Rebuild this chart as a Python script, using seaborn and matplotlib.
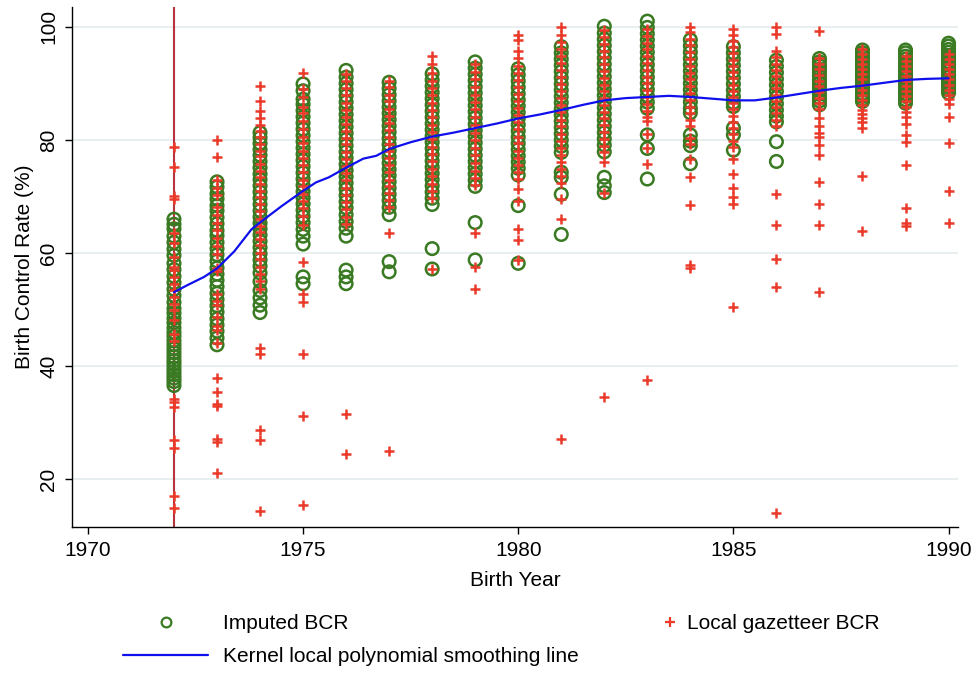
import numpy as np
import pandas as pd
import matplotlib
matplotlib.use("Agg")
import matplotlib.pyplot as plt
import seaborn as sns
from matplotlib.lines import Line2D

# ---------------- data ----------------
years = list(range(1972, 1991))

imp_1972 = [66.0, 65.1, 64.3, 63.0, 61.9, 60.7, 59.6, 58.2, 57.1, 55.9, 54.8, 53.6, 52.5, 51.3, 50.2, 49.4, 48.5,
            47.7, 46.8, 46.0, 45.3, 44.5, 43.8, 43.1, 42.4, 41.7, 41.0, 40.4, 39.7, 39.1, 38.5, 37.9, 37.3, 36.6]
imp_1973 = [72.6, 71.7, 70.5, 69.6, 68.4, 67.5, 66.3, 65.2, 64.0, 63.1, 61.9, 60.8, 59.7, 58.6, 57.4, 56.3, 55.2,
            54.1, 52.9, 51.8, 50.7, 49.6, 48.4, 47.3, 46.2, 45.0, 43.8]
imp_1974 = [81.3, 80.4, 79.4, 78.3, 77.3, 76.2, 75.1, 74.0, 73.0, 71.9, 70.8, 69.7, 68.6, 67.5, 66.4, 65.3, 64.3,
            63.2, 62.1, 61.0, 59.9, 58.8, 57.7, 56.5, 55.0, 53.4, 52.1, 50.8, 49.5]
imp_1975 = [89.9, 88.7, 87.2, 86.3, 85.2, 84.1, 83.0, 81.9, 80.8, 79.7, 78.6, 77.5, 76.4, 75.3, 74.2, 73.1, 72.0,
            70.9, 69.8, 68.7, 67.6, 66.5, 65.4, 64.2, 63.0, 61.6, 55.8, 54.6]
imp_1976 = [92.3, 91.1, 90.0, 88.9, 87.8, 86.7, 85.6, 84.5, 83.4, 82.3, 81.2, 80.1, 79.0, 77.9, 76.8, 75.7, 74.6,
            73.5, 72.4, 71.3, 70.2, 69.1, 68.0, 66.8, 65.6, 64.4, 63.0, 57.0, 55.8, 54.6]
imp_1977 = [90.2, 89.1, 88.0, 86.9, 85.8, 84.7, 83.6, 82.5, 81.4, 80.3, 79.2, 78.1, 77.0, 75.9, 74.8, 73.7, 72.6,
            71.5, 70.4, 69.3, 68.1, 66.8, 58.5, 56.7]
imp_1978 = [91.7, 90.6, 89.5, 88.4, 87.3, 86.2, 85.1, 84.0, 82.9, 81.8, 80.7, 79.6, 78.5, 77.4, 76.3, 75.2, 74.1,
            73.0, 71.9, 70.8, 69.7, 68.6, 60.8, 57.2]
imp_1979 = [93.8, 92.7, 91.6, 90.5, 89.4, 88.3, 87.2, 86.1, 85.0, 83.9, 82.8, 81.7, 80.6, 79.5, 78.4, 77.3, 76.2,
            75.1, 74.0, 72.9, 71.8, 65.4, 58.8]
imp_1980 = [92.6, 91.5, 90.4, 89.3, 88.2, 87.1, 86.0, 84.9, 83.8, 82.7, 81.6, 80.5, 79.4, 78.3, 77.2, 76.1, 75.0,
            73.8, 68.4, 58.2]
imp_1981 = [96.5, 95.4, 94.3, 93.2, 92.1, 91.0, 89.9, 88.8, 87.7, 86.6, 85.5, 84.4, 83.3, 82.2, 81.1, 80.0, 78.9,
            77.8, 74.3, 73.4, 70.4, 63.3]
imp_1982 = [100.1, 98.9, 97.8, 96.7, 95.6, 94.5, 93.4, 92.3, 91.2, 90.1, 89.0, 87.9, 86.8, 85.7, 84.6, 83.5, 82.4,
            81.3, 80.2, 79.1, 77.9, 73.4, 71.9, 70.7]
imp_1983 = [101.0, 99.9, 98.8, 97.7, 96.6, 95.5, 94.4, 93.3, 92.2, 91.1, 90.0, 88.9, 87.8, 86.7, 85.6, 80.9, 78.5,
            73.1]
imp_1984 = [97.7, 96.6, 95.5, 94.4, 93.3, 92.2, 91.1, 90.0, 88.9, 87.8, 86.7, 85.6, 84.8, 80.9, 79.8, 79.0, 75.8]
imp_1985 = [96.5, 95.4, 94.3, 93.2, 92.1, 91.0, 89.9, 88.8, 87.7, 86.6, 85.9, 82.1, 80.9, 78.2]
imp_1986 = [94.1, 93.0, 91.9, 90.8, 89.7, 88.6, 87.5, 86.4, 85.3, 84.2, 83.2, 79.7, 76.2]
imp_1987 = [94.4, 93.8, 93.1, 92.5, 91.9, 91.3, 90.6, 90.0, 89.4, 88.8, 88.1, 87.5, 86.9, 86.2]
imp_1988 = [95.9, 95.4, 94.8, 94.3, 93.7, 93.2, 92.6, 92.1, 91.5, 91.0, 90.4, 89.9, 89.3, 88.8, 88.2, 87.7, 87.2,
            86.8]
imp_1989 = [95.9, 95.4, 94.8, 94.3, 93.7, 93.2, 92.6, 92.1, 91.5, 91.0, 90.4, 89.9, 89.3, 88.8, 88.2, 87.7, 87.1,
            86.5]
imp_1990 = [97.1, 96.6, 96.0, 95.5, 94.9, 94.4, 93.8, 93.3, 92.7, 92.2, 91.6, 91.1, 90.5, 90.0, 89.4, 88.9, 88.3]

gaz_1972 = [78.8, 75.2, 70.1, 69.6, 63.6, 61.8, 59.4, 57.6, 57.0, 55.8, 54.6, 53.4, 52.2, 51.0, 49.9, 48.1, 45.7,
            44.5, 34.3, 33.7, 32.8, 27.0, 25.5, 17.0, 14.9]
gaz_1973 = [80.0, 77.0, 72.9, 71.6, 70.2, 68.1, 66.8, 65.3, 64.1, 62.6, 61.2, 59.8, 57.4, 56.9, 52.7, 51.5, 50.9,
            48.8, 47.1, 46.4, 44.1, 37.9, 35.5, 33.4, 33.0, 27.2, 26.6, 21.2]
gaz_1974 = [89.6, 86.9, 85.1, 83.9, 82.7, 81.6, 80.5, 79.3, 78.0, 77.1, 75.8, 74.6, 73.5, 72.3, 71.0, 69.9, 68.6,
            67.4, 66.1, 64.8, 63.7, 62.5, 61.4, 60.0, 58.9, 57.5, 56.3, 55.1, 53.6, 43.2, 42.1, 28.8, 27.0, 14.5]
gaz_1975 = [91.9, 89.0, 87.6, 85.9, 84.7, 83.3, 82.0, 80.6, 79.5, 78.1, 76.9, 75.6, 74.4, 73.0, 71.8, 70.5, 69.2,
            67.9, 66.6, 65.0, 58.5, 52.8, 51.3, 42.1, 31.3, 15.5]
gaz_1976 = [91.6, 90.4, 89.1, 87.9, 86.5, 85.3, 84.1, 82.9, 81.6, 80.3, 79.2, 77.9, 76.6, 75.4, 74.1, 72.9, 71.6,
            70.3, 69.0, 67.8, 66.3, 65.1, 31.6, 24.5]
gaz_1977 = [90.5, 89.3, 88.0, 86.8, 85.5, 84.3, 83.0, 81.8, 80.5, 79.3, 78.0, 76.8, 75.5, 74.3, 73.0, 71.8, 70.6,
            69.4, 68.1, 63.6, 25.1]
gaz_1978 = [94.9, 93.4, 91.8, 90.5, 89.2, 87.9, 86.6, 85.3, 84.0, 82.7, 81.4, 80.1, 78.8, 77.5, 76.2, 74.9, 73.6,
            72.3, 71.0, 69.7, 57.2]
gaz_1979 = [93.5, 92.1, 90.8, 89.4, 88.0, 86.7, 85.4, 84.0, 82.6, 81.3, 80.0, 78.6, 77.3, 75.9, 74.6, 73.3, 72.0,
            63.6, 57.6, 53.7]
gaz_1980 = [98.5, 97.6, 95.8, 94.4, 93.1, 91.9, 90.6, 89.4, 88.1, 86.9, 85.6, 84.4, 83.1, 81.9, 80.6, 79.4, 78.1,
            76.9, 75.6, 74.4, 73.1, 71.3, 69.3, 64.2, 62.4, 58.8]
gaz_1981 = [100.0, 98.6, 97.4, 96.1, 94.9, 93.6, 92.4, 91.1, 89.9, 88.6, 87.4, 86.1, 84.9, 83.6, 82.4, 81.1, 79.9,
            78.6, 77.4, 76.1, 74.9, 73.7, 72.4, 69.6, 66.0, 27.2]
gaz_1982 = [99.4, 98.2, 97.0, 95.8, 94.6, 93.4, 92.2, 91.0, 89.8, 88.6, 87.4, 86.2, 85.0, 83.8, 82.6, 81.4, 80.2,
            79.0, 77.8, 76.1, 70.7, 34.6]
gaz_1983 = [99.6, 98.4, 97.2, 96.0, 94.8, 93.6, 92.4, 91.2, 90.0, 88.8, 87.6, 86.4, 85.2, 84.0, 83.3, 81.0, 78.6,
            75.8, 37.6]
gaz_1984 = [100.0, 99.1, 97.9, 96.7, 95.5, 94.3, 93.1, 91.9, 90.7, 89.5, 88.3, 87.1, 85.9, 84.7, 83.6, 82.5, 80.3,
            79.2, 76.7, 73.4, 68.5, 57.9, 57.3]
gaz_1985 = [99.7, 98.6, 97.5, 96.4, 95.3, 94.2, 93.1, 92.0, 90.9, 89.8, 88.7, 87.6, 86.5, 85.4, 84.3, 83.2, 82.1,
            81.0, 79.9, 78.8, 76.7, 74.0, 71.6, 69.9, 68.7, 50.4]
gaz_1986 = [100.0, 98.8, 95.8, 94.6, 93.5, 92.4, 91.3, 90.2, 89.1, 88.0, 86.9, 85.8, 84.7, 83.6, 82.5, 70.4, 64.9,
            58.9, 54.0, 14.1]
gaz_1987 = [99.3, 94.5, 93.5, 92.5, 91.5, 90.5, 89.5, 88.5, 87.5, 86.5, 85.5, 83.9, 82.4, 81.2, 80.6, 79.1, 77.3,
            72.5, 68.7, 64.9, 53.1]
gaz_1988 = [96.1, 95.2, 94.3, 93.4, 92.5, 91.6, 90.7, 89.8, 88.9, 88.0, 87.1, 86.2, 85.3, 84.6, 83.9, 83.2, 82.1,
            73.7, 64.0]
gaz_1989 = [94.9, 94.0, 93.1, 92.2, 91.3, 90.4, 89.5, 88.6, 87.7, 86.8, 85.9, 85.0, 84.0, 82.9, 80.9, 79.7, 75.5,
            67.9, 65.4, 64.8]
gaz_1990 = [95.2, 94.3, 93.4, 92.5, 91.6, 90.7, 89.8, 88.9, 88.0, 87.2, 86.3, 84.0, 79.4, 70.9, 65.4]

smooth_x = [1972, 1972.3, 1972.7, 1973, 1973.4, 1973.8, 1974.1, 1974.5, 1975, 1975.3, 1975.6, 1976, 1976.4,
            1976.7, 1977, 1977.5, 1978, 1978.5, 1979, 1979.5, 1980, 1980.5, 1981, 1981.5, 1982, 1982.5, 1983,
            1983.5, 1984, 1984.5, 1985, 1985.5, 1986, 1986.5, 1987, 1987.5, 1988, 1988.5, 1989, 1989.5, 1990]
smooth_y = [53.1, 54.3, 55.8, 57.3, 60.3, 64.2, 66.0, 68.3, 71.0, 72.5, 73.4, 75.1, 76.7, 77.2, 78.4, 79.6, 80.6,
            81.3, 82.1, 82.9, 83.8, 84.5, 85.3, 86.2, 87.0, 87.4, 87.6, 87.8, 87.6, 87.3, 87.0, 87.0, 87.5, 88.1,
            88.7, 89.2, 89.6, 90.1, 90.6, 90.8, 90.9]

x_ticks = [1970, 1975, 1980, 1985, 1990]
y_ticks = [20, 40, 60, 80, 100]
label_imp = "Imputed BCR"
label_gaz = "Local gazetteer BCR"
label_line = "Kernel local polynomial smoothing line"

imp_lists = [imp_1972, imp_1973, imp_1974, imp_1975, imp_1976, imp_1977, imp_1978, imp_1979, imp_1980, imp_1981,
             imp_1982, imp_1983, imp_1984, imp_1985, imp_1986, imp_1987, imp_1988, imp_1989, imp_1990]
gaz_lists = [gaz_1972, gaz_1973, gaz_1974, gaz_1975, gaz_1976, gaz_1977, gaz_1978, gaz_1979, gaz_1980, gaz_1981,
             gaz_1982, gaz_1983, gaz_1984, gaz_1985, gaz_1986, gaz_1987, gaz_1988, gaz_1989, gaz_1990]

imp_df = pd.DataFrame([(y, v) for y, vals in zip(years, imp_lists) for v in vals], columns=["year", "bcr"])
gaz_df = pd.DataFrame([(y, v) for y, vals in zip(years, gaz_lists) for v in vals], columns=["year", "bcr"])
smooth_df = pd.DataFrame({"year": smooth_x, "bcr": smooth_y})

# ---------------- style ----------------
GREEN = "#3a7a22"
RED = "#ea3a2a"
BLUE = "#1010ee"
VLINE = "#b8323f"
GRID = "#e5ecef"

sns.set_style("ticks")
plt.rcParams["font.family"] = ["Liberation Sans", "DejaVu Sans"]
plt.rcParams["text.color"] = "black"
plt.rcParams["axes.labelcolor"] = "black"
plt.rcParams["xtick.color"] = "black"
plt.rcParams["ytick.color"] = "black"
FS = 15

fig = plt.figure(figsize=(9.71, 6.73), dpi=100)
W, H = 971, 673
ax = fig.add_axes([72 / W, 1 - 527 / H, (958 - 72) / W, (527 - 7) / H])

ax.axvline(1972, color=VLINE, lw=1.5, zorder=1)

sns.scatterplot(data=imp_df, x="year", y="bcr", marker="o", s=82, linewidth=1.8,
                color=GREEN, ax=ax, legend=False, zorder=2)
coll_imp = ax.collections[-1]
coll_imp.set_facecolor("none")
coll_imp.set_edgecolor(GREEN)
coll_imp.set_linewidth(1.8)

sns.scatterplot(data=gaz_df, x="year", y="bcr", marker="+", s=58, linewidth=1.8,
                color=RED, ax=ax, legend=False, zorder=3)
coll_gaz = ax.collections[-1]
coll_gaz.set_edgecolor(RED)
coll_gaz.set_facecolor(RED)
coll_gaz.set_linewidth(1.8)

sns.lineplot(data=smooth_df, x="year", y="bcr", color=BLUE, lw=1.6, ax=ax, zorder=4, legend=False)

ax.set_xlim(1969.63, 1990.22)
ax.set_ylim(11.6, 103.5)
ax.set_xticks(x_ticks)
ax.set_yticks(y_ticks)
ax.grid(axis="y", color=GRID, lw=1.2)
ax.grid(axis="x", visible=False)
ax.set_axisbelow(True)
for side in ["top", "right"]:
    ax.spines[side].set_visible(False)
for side in ["left", "bottom"]:
    ax.spines[side].set_color("black")
    ax.spines[side].set_linewidth(1.0)
ax.tick_params(axis="both", length=5, width=1.0, color="black", labelcolor="black", labelsize=FS,
               direction="out", pad=5)
for lab in ax.get_yticklabels():
    lab.set_rotation(90)
    lab.set_va("center")

ax.set_xlabel("Birth Year", fontsize=FS, labelpad=8, color="black")
ax.set_ylabel("Birth Control Rate (%)", fontsize=FS, labelpad=4, color="black")

# ---------------- legend ----------------
h_imp = Line2D([], [], marker="o", ls="none", mfc="none", mec=GREEN, ms=7, mew=1.6)
h_line = Line2D([], [], color=BLUE, lw=1.6)
h_gaz = Line2D([], [], marker="+", ls="none", color=RED, ms=7, mew=1.6)

leg1 = fig.legend([h_imp, h_line], [label_imp, label_line], loc="upper left",
                  bbox_to_anchor=(123 / W, 1 - 614 / H), frameon=False, fontsize=FS,
                  handlelength=85 / 20.83, handletextpad=0.72, borderpad=0, borderaxespad=0,
                  labelspacing=0.68, labelcolor="black")
leg2 = fig.legend([h_gaz], [label_gaz], loc="upper left",
                  bbox_to_anchor=(662 / W, 1 - 614 / H), frameon=False, fontsize=FS,
                  handlelength=0.8, handletextpad=0.4, borderpad=0, borderaxespad=0,
                  labelcolor="black")

fig.savefig("out.png", dpi=100)
